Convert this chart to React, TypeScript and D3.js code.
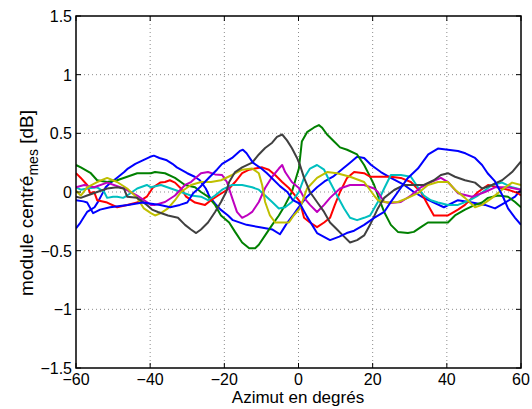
import React from "react";
import * as d3 from "d3";

// Azimuth (deg) / centred module (dB)
const blue1: [number, number][] = [
  [-60, -0.31], [-59, -0.27], [-58, -0.22], [-57, -0.17], [-56, -0.15], [-55, -0.13], [-54, -0.08],
  [-53, -0.02], [-52, 0.04], [-51, 0.07], [-49, 0.12], [-47, 0.17], [-46, 0.2], [-44, 0.24],
  [-42, 0.27], [-40, 0.3], [-39, 0.31], [-37.5, 0.29], [-35.5, 0.27], [-34, 0.24], [-32.8, 0.21],
  [-30, 0.16], [-28, 0.13], [-26.6, 0.1], [-25, 0.03], [-24, -0.04], [-22.5, -0.1], [-21, -0.15],
  [-19, -0.2], [-17.7, -0.24], [-14, -0.28], [-10.4, -0.3], [-7, -0.32], [-5, -0.36], [-4, -0.31],
  [-3, -0.26], [-1.5, -0.2], [-0.4, -0.15], [1, -0.09], [2.3, -0.04], [5, 0.04], [7, 0.09],
  [9.3, 0.13], [12, 0.2], [13.9, 0.25], [15.8, 0.3], [17.7, 0.29], [19.6, 0.23], [22.2, 0.17],
  [24.9, 0.12], [28.5, 0.06], [31.1, 0], [33.8, -0.05], [36.5, -0.09], [39.2, -0.13], [43, -0.07],
  [46.8, -0.09], [50.3, -0.11], [53, -0.14], [55.7, -0.09], [58.4, -0.04], [60, 0.02],
];
const green: [number, number][] = [
  [-60, 0.23], [-58.7, 0.21], [-56, 0.16], [-54.3, 0.1], [-51.6, 0.085], [-48.9, 0.1], [-46.2, 0.13],
  [-43.5, 0.16], [-39.8, 0.16], [-38.7, 0.17], [-36, 0.16], [-33.3, 0.12], [-30.6, 0.06], [-27.9, 0.04],
  [-26.3, 0], [-24.4, -0.04], [-22.5, -0.11], [-20.9, -0.2], [-18.7, -0.26], [-17.1, -0.34],
  [-15.2, -0.43], [-13.3, -0.48], [-11.7, -0.48], [-10.7, -0.45], [-9, -0.37], [-7.1, -0.28],
  [-5.3, -0.2], [-3.6, -0.11], [-1.8, 0], [0.1, 0.2], [0.9, 0.43], [2.3, 0.51], [4.2, 0.55],
  [5.5, 0.57], [6.3, 0.55], [7.7, 0.49], [9.6, 0.43], [11.2, 0.38], [13.1, 0.36], [15.8, 0.32],
  [17.7, 0.23], [19, 0.15], [20.4, 0.06], [21.4, -0.03], [23.1, -0.17], [24.9, -0.28], [26.8, -0.34],
  [29.5, -0.35], [31.1, -0.34], [33, -0.3], [34.9, -0.26], [37.6, -0.26], [40.3, -0.26],
  [42.2, -0.2], [44.9, -0.15], [47.6, -0.11], [49.5, -0.09], [51.1, -0.05], [53.8, -0.03],
  [56.5, -0.04], [58.4, -0.085], [60, -0.13],
];
const red: [number, number][] = [
  [-60, 0.16], [-58.7, 0.12], [-57, 0.06], [-56.2, -0.01], [-55.1, 0], [-54.3, -0.07], [-51.6, -0.09],
  [-48.9, -0.13], [-46.2, -0.11], [-43.5, -0.09], [-40.9, -0.04], [-39.2, 0.04], [-37.3, 0.08],
  [-36, 0.085], [-34.7, 0.1], [-33.3, 0.08], [-31.7, 0.03], [-30.3, -0.04], [-27.9, -0.09],
  [-25.2, -0.11], [-23.6, -0.07], [-21.7, -0.03], [-18.7, 0.03], [-17.1, 0.085], [-15.2, 0.16],
  [-13.3, 0.19], [-11.7, 0.2], [-9.8, 0.21], [-8, 0.19], [-6.3, 0.145], [-4.4, 0.085], [-2.6, 0.034],
  [-1, -0.026], [0.4, -0.085], [1.5, -0.22], [3.1, -0.26], [5, -0.3], [6.9, -0.26], [8.5, -0.22],
  [9.8, -0.11], [11.2, 0], [13.1, 0.12], [15, 0.17], [17.7, 0.16], [19.3, 0.13], [22.2, 0.13],
  [24.9, 0.13], [27.6, 0.12], [30.3, 0.085], [33, 0], [34.9, -0.11], [36.5, -0.2], [38.4, -0.2],
  [40.3, -0.2], [41.4, -0.18], [43, -0.15], [44.9, -0.11], [46.8, -0.05], [48.4, 0], [51.1, 0.06],
  [53.8, 0.04], [56.5, 0.02], [59.2, -0.01], [60, -0.03],
];
const cyan: [number, number][] = [
  [-60, 0.04], [-58.7, 0.02], [-57, 0.03], [-54.3, 0.04], [-52.4, 0], [-51.6, -0.05], [-50, -0.04],
  [-48.9, -0.04], [-47.3, -0.05], [-46.2, -0.03], [-43.5, 0.03], [-40.9, 0.06], [-39.8, 0.04],
  [-37.1, 0.06], [-34.4, 0.03], [-31.7, 0], [-29, -0.03], [-26.3, -0.04], [-24.4, -0.07],
  [-22.5, -0.03], [-20.6, 0.02], [-17.9, 0.06], [-15.2, 0.06], [-12.5, 0.04], [-10.7, 0.02],
  [-9, -0.03], [-7.1, -0.085], [-5.3, -0.14], [-3.6, -0.13], [-1.8, -0.085], [0.1, 0], [1.5, 0.12],
  [3.1, 0.2], [5, 0.23], [6.9, 0.19], [8.5, 0.085], [10.4, -0.03], [12.3, -0.14], [13.9, -0.22],
  [15.8, -0.24], [17.7, -0.22], [19.3, -0.2], [21.4, -0.085], [23.1, 0.03], [24.9, 0.145],
  [27.6, 0.145], [30.3, 0.13], [32.2, 0.04], [33.8, -0.03], [35.7, -0.07], [37.6, -0.09],
  [40.3, -0.11], [43, -0.11], [46.2, -0.07], [48.4, -0.03], [52.2, 0.06], [54.9, 0.08],
  [57.6, 0.04], [60, 0.02],
];
const magenta: [number, number][] = [
  [-60, 0.04], [-57.8, 0.06], [-55.1, 0.04], [-51.6, 0.08], [-47.1, 0.03], [-43.5, -0.03],
  [-39.8, -0.11], [-38.7, -0.11], [-36, -0.085], [-33.3, -0.03], [-30.6, 0.06], [-29, 0.085],
  [-26.3, 0.16], [-24.4, 0.17], [-22.5, 0.15], [-20.6, 0.145], [-19.3, 0.085], [-17.9, -0.05],
  [-16.6, -0.17], [-15.2, -0.22], [-13.9, -0.2], [-12.5, -0.17], [-10.7, -0.085], [-9, 0.034],
  [-7.1, 0.13], [-5.3, 0.2], [-4.4, 0.23], [-3.6, 0.17], [-1.8, 0.085], [0.1, 0.034], [1.5, -0.05],
  [3.1, -0.11], [5, -0.17], [6.9, -0.11], [8.5, -0.05], [11.2, 0.03], [13.9, 0.06], [17.7, 0.06],
  [20.4, 0.03], [21.4, 0], [23.1, -0.085], [24.9, -0.094], [27.6, -0.085], [30.3, -0.03],
  [33, 0.04], [35.7, 0.085], [38.4, 0.12], [40.3, 0.085], [43, -0.01], [46.8, -0.04], [50.3, 0],
  [53, 0.04], [56.5, 0.04], [60, 0.02],
];
const olive: [number, number][] = [
  [-60, 0.01], [-58.7, -0.03], [-57, 0.04], [-54.3, 0.085], [-51.6, 0.12], [-48.9, 0.085],
  [-46.2, 0.03], [-43.5, -0.05], [-41.7, -0.14], [-39.8, -0.18], [-38.7, -0.2], [-37.1, -0.18],
  [-35.2, -0.14], [-33.3, -0.07], [-31.7, 0], [-29, 0.06], [-26.3, 0.085], [-23.6, 0.085],
  [-20.9, 0.1], [-17.9, 0.145], [-15.2, 0.19], [-12.5, 0.2], [-10.7, 0.16], [-9.8, 0.06],
  [-9, -0.085], [-7.7, -0.2], [-6.3, -0.26], [-4.4, -0.26], [-2.6, -0.26], [-1.3, -0.2],
  [0.4, -0.14], [2.3, 0.03], [5, 0.12], [7.7, 0.17], [10.4, 0.16], [13.9, 0.13], [17.7, 0.085],
  [20.4, -0.03], [21.4, -0.07], [24.1, -0.09], [26.8, -0.085], [29.5, -0.05], [32.2, -0.01],
  [34.9, 0.06], [37.6, 0.085], [40.3, 0.085], [42.2, 0.02], [44.9, -0.05], [47.6, -0.13],
  [49.5, -0.11], [52.2, -0.05], [54.9, 0.02], [57.6, 0.08], [60, 0.06],
];
const gray: [number, number][] = [
  [-60, -0.04], [-58.7, -0.05], [-57, -0.03], [-54.3, 0], [-51.6, 0.03], [-48.9, 0.04],
  [-47.1, 0.03], [-46.2, -0.04], [-43.5, -0.05], [-40.9, -0.11], [-39.5, -0.15], [-37.9, -0.17],
  [-35.2, -0.2], [-32.5, -0.22], [-30.6, -0.28], [-29, -0.32], [-27.6, -0.35], [-26.3, -0.32],
  [-24.4, -0.26], [-22.5, -0.17], [-20.9, -0.085], [-19.5, 0], [-18.7, 0.085], [-17.1, 0.17],
  [-15.2, 0.21], [-12.5, 0.25], [-10.7, 0.32], [-9, 0.375], [-7.1, 0.42], [-5.8, 0.47],
  [-4.4, 0.49], [-3.1, 0.44], [-1.8, 0.375], [-0.4, 0.29], [0.4, 0.23], [1.5, 0.12], [3.1, 0],
  [5, -0.085], [6.9, -0.17], [8.5, -0.26], [10.4, -0.32], [12.3, -0.38], [13.9, -0.43],
  [15.8, -0.41], [17.7, -0.37], [19.3, -0.28], [21.4, -0.14], [23.1, -0.05], [25.8, 0.017],
  [28.5, 0.06], [31.1, 0.06], [33.8, 0.06], [36.5, 0.1], [38.4, 0.145], [40.3, 0.16],
  [42.2, 0.13], [44.9, 0.1], [47.6, 0.08], [49.5, 0.03], [52.2, 0.06], [54.9, 0.1], [57.6, 0.17],
  [60, 0.26],
];
const blue2: [number, number][] = [
  [-60, -0.07], [-58, -0.08], [-57, -0.09], [-55.4, -0.18], [-53.5, -0.15], [-50.8, -0.13],
  [-46, -0.11], [-42, -0.09], [-37.3, -0.11], [-34.6, -0.13], [-32, -0.11], [-30, -0.09],
  [-28.4, -0.01], [-26.6, 0.04], [-23.9, 0.13], [-22, 0.19], [-20.6, 0.24], [-17.9, 0.29],
  [-15.8, 0.35], [-15, 0.36], [-14, 0.33], [-12.3, 0.25], [-10, 0.2], [-8.5, 0.16], [-5, 0.05],
  [-3, 0], [-1.5, -0.07], [0.4, -0.1], [2.3, -0.21], [5, -0.35], [8.5, -0.41], [11, -0.38],
  [13, -0.35], [15, -0.33], [17.7, -0.28], [20.4, -0.22], [23.1, -0.17], [25, -0.08], [26.8, 0],
  [29.5, 0.12], [32.2, 0.2], [35, 0.32], [37.6, 0.37], [40.3, 0.36], [43, 0.35], [45, 0.33],
  [47.6, 0.29], [49.5, 0.23], [51, 0.16], [53, 0.09], [55, -0.03], [56.5, -0.14], [58.4, -0.22],
  [60, -0.28],
];

const seriesList = [blue1, green, red, cyan, magenta, olive, gray, blue2];
const seriesColors = ["#0000ff", "#008000", "#ff0000", "#00bfbf", "#bf00bf", "#bfbf00", "#404040", "#0000ff"];

const xTicks = [-60, -40, -20, 0, 20, 40, 60];
const yTicks = [-1.5, -1, -0.5, 0, 0.5, 1, 1.5];
const xLabel = "Azimut en degrés";

const W = 532;
const H = 409;
const M = { left: 76, right: 521, top: 16, bottom: 368 };
const FONT = "'Liberation Sans', Arial, Helvetica, sans-serif";

const fmt = (v: number) => (v < 0 ? "\u2212" + String(Math.abs(v)) : String(v));

export default function App() {
  const x = d3.scaleLinear().domain([-60, 60]).range([M.left, M.right]);
  const y = d3.scaleLinear().domain([-1.5, 1.5]).range([M.bottom, M.top]);
  const line = d3
    .line<[number, number]>()
    .x((d) => x(d[0]))
    .y((d) => y(d[1]));
  const tl = 5;

  return (
    <svg
      width={W}
      height={H}
      style={{ position: "absolute", left: 0, top: 0, background: "#fff" }}
      fontFamily={FONT}
    >
      <rect x={0} y={0} width={W} height={H} fill="#fff" />
      {/* grid */}
      {xTicks.slice(1, -1).map((t) => (
        <line key={"gx" + t} x1={x(t)} x2={x(t)} y1={M.top} y2={M.bottom} stroke="#8c8c8c" strokeWidth={1} strokeDasharray="1,3" />
      ))}
      {yTicks.slice(1, -1).map((t) => (
        <line key={"gy" + t} x1={M.left} x2={M.right} y1={y(t)} y2={y(t)} stroke="#8c8c8c" strokeWidth={1} strokeDasharray="1,3" />
      ))}
      {/* series */}
      <g clipPath="url(#clip)">
        <clipPath id="clip">
          <rect x={M.left} y={M.top} width={M.right - M.left} height={M.bottom - M.top} />
        </clipPath>
        {seriesList.map((s, i) => (
          <path key={i} d={line(s) || ""} fill="none" stroke={seriesColors[i]} strokeWidth={2} strokeLinejoin="round" />
        ))}
      </g>
      {/* box */}
      <rect x={M.left} y={M.top} width={M.right - M.left} height={M.bottom - M.top} fill="none" stroke="#000" strokeWidth={1.5} />
      {/* ticks */}
      {xTicks.map((t) => (
        <g key={"tx" + t}>
          <line x1={x(t)} x2={x(t)} y1={M.bottom} y2={M.bottom - tl} stroke="#000" strokeWidth={1} />
          <line x1={x(t)} x2={x(t)} y1={M.top} y2={M.top + tl} stroke="#000" strokeWidth={1} />
          <text x={x(t)} y={M.bottom + 17} fontSize={16} textAnchor="middle" fill="#000">
            {fmt(t)}
          </text>
        </g>
      ))}
      {yTicks.map((t) => (
        <g key={"ty" + t}>
          <line x1={M.left} x2={M.left + tl} y1={y(t)} y2={y(t)} stroke="#000" strokeWidth={1} />
          <line x1={M.right} x2={M.right - tl} y1={y(t)} y2={y(t)} stroke="#000" strokeWidth={1} />
          <text x={M.left - 4} y={y(t) + 6} fontSize={16} textAnchor="end" fill="#000">
            {fmt(t)}
          </text>
        </g>
      ))}
      <text x={298} y={403} fontSize={17} textAnchor="middle" fill="#000">
        {xLabel}
      </text>
      <text transform="translate(33,203) rotate(-90)" fontSize={19} textAnchor="middle" fill="#000">
        module centré
        <tspan fontSize={14} dy={5}>mes</tspan>
        <tspan dy={-5}> [dB]</tspan>
      </text>
    </svg>
  );
}
